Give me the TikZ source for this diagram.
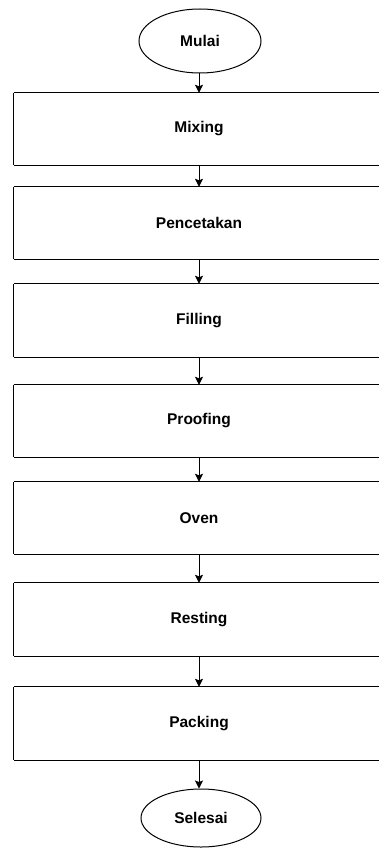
\documentclass[tikz,border=0pt]{standalone}
\usepackage{fontspec}
\setmainfont{Liberation Sans}
\usetikzlibrary{arrows.meta,shapes.geometric}
\begin{document}
\begin{tikzpicture}[x=1pt,y=-1pt,
  every node/.style={font=\fontsize{15.5}{18}\selectfont\bfseries},
  procbox/.style={minimum width=370pt,inner sep=0pt},
  boxline/.style={draw=black,line width=1pt},
  term/.style={draw=black,line width=1pt,ellipse,inner sep=0pt},
  flow/.style={draw=black,line width=1pt,-{Stealth[length=8pt,width=8pt,inset=1.5pt]}}]
\fill[white] (0,0) rectangle (378,848);
\useasboundingbox (0,0) rectangle (378,848);
\node[term,minimum width=122pt,minimum height=64pt] (mulai) at (200,41) {Mulai};
\node[procbox,minimum height=72pt] (mixing) at (199,129) {Mixing};
\node[procbox,minimum height=72pt] (cetak) at (199,223) {Pencetakan};
\node[procbox,minimum height=73pt] (filling) at (199,320.5) {Filling};
\node[procbox,minimum height=72pt] (proofing) at (199,421) {Proofing};
\node[procbox,minimum height=72pt] (oven) at (199,518) {Oven};
\node[procbox,minimum height=73pt] (resting) at (199,619.5) {Resting};
\node[procbox,minimum height=73pt] (packing) at (199,723.5) {Packing};
\node[term,minimum width=120pt,minimum height=58pt] (selesai) at (201,818) {Selesai};
\foreach \b in {mixing,cetak,filling,proofing,oven,resting,packing}
  \draw[boxline] (\b.north west) -- (\b.north east) (\b.south west) -- (\b.south east)
    (\b.north west) -- (\b.south west);
\draw[flow] (mixing.north |- mulai.south) -- (mixing.north);
\draw[flow] (mixing.south) -- (cetak.north);
\draw[flow] (cetak.south) -- (filling.north);
\draw[flow] (filling.south) -- (proofing.north);
\draw[flow] (proofing.south) -- (oven.north);
\draw[flow] (oven.south) -- (resting.north);
\draw[flow] (resting.south) -- (packing.north);
\draw[flow] (packing.south) -- (packing.south |- selesai.north);
\end{tikzpicture}
\end{document}
